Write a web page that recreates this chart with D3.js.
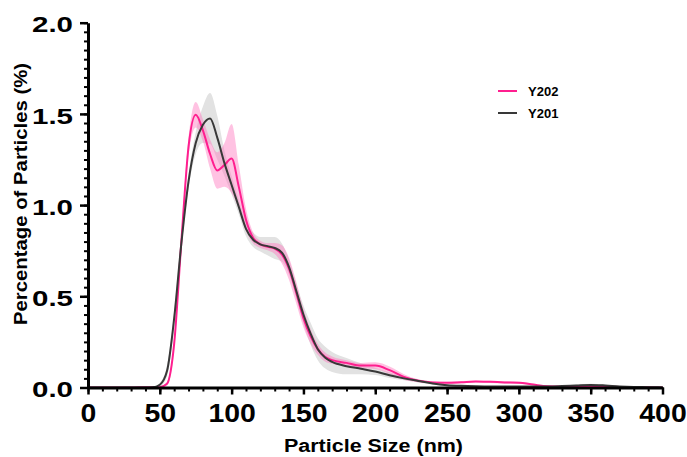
<!DOCTYPE html>
<html><head><meta charset="utf-8">
<script src="https://cdn.jsdelivr.net/npm/d3@7"></script>
<style>body{margin:0;background:#fff}svg{display:block}text{font-family:"Liberation Sans",Arial,sans-serif}</style>
</head><body><svg id="c" width="687" height="457"></svg>
<script>
const sizes = [0,10,20,30,40,45,50,55,60,65,70,75,80,85,90,95,100,105,110,115,120,125,130,135,140,145,150,155,160,165,170,180,190,200,210,220,230,240,250,260,270,280,290,300,310,320,330,340,350,360,370,380,390,400];
const y201Mean = [0,0,0,0,0,0.001,0.015,0.09,0.38,0.79,1.13,1.34,1.44,1.475,1.37,1.23,1.11,0.99,0.87,0.81,0.785,0.775,0.765,0.74,0.66,0.53,0.40,0.295,0.21,0.165,0.14,0.117,0.103,0.088,0.067,0.05,0.036,0.022,0.013,0.009,0.007,0.006,0.006,0.006,0.006,0.006,0.008,0.011,0.014,0.011,0.006,0.003,0.002,0];
const y201Sem = [0,0,0,0,0,0.002,0.01,0.03,0.04,0.04,0.04,0.06,0.1,0.14,0.12,0.07,0.05,0.04,0.04,0.04,0.04,0.05,0.06,0.05,0.04,0.04,0.05,0.06,0.06,0.06,0.055,0.045,0.03,0.02,0.015,0.01,0.008,0.005,0.005,0.004,0.004,0.004,0.004,0.004,0.004,0.004,0.004,0.005,0.006,0.005,0.004,0.003,0.002,0];
const y202Mean = [0,0,0,0,0.002,0.002,0.002,0.02,0.24,0.8,1.32,1.495,1.41,1.28,1.19,1.22,1.255,1.1,0.92,0.82,0.785,0.772,0.762,0.73,0.65,0.52,0.38,0.28,0.21,0.168,0.15,0.135,0.12,0.12,0.095,0.058,0.037,0.028,0.026,0.029,0.033,0.031,0.028,0.026,0.016,0.007,0.005,0.005,0.005,0.004,0.003,0.002,0.001,0];
const y202Sem = [0,0,0,0,0.002,0.002,0.002,0.01,0.03,0.04,0.05,0.07,0.06,0.08,0.1,0.12,0.19,0.12,0.06,0.03,0.02,0.02,0.03,0.05,0.06,0.06,0.05,0.04,0.03,0.025,0.02,0.015,0.015,0.018,0.02,0.015,0.008,0.006,0.006,0.006,0.006,0.006,0.006,0.006,0.005,0.004,0.003,0.003,0.003,0.003,0.002,0.002,0.001,0];
const xTicks = [0,50,100,150,200,250,300,350,400];
const yTicks = [0,0.5,1.0,1.5,2.0];
const seriesNames = ["Y202","Y201"];

const svg = d3.select("#c");
const x = d3.scaleLinear().domain([0,400]).range([88,662.5]);
const y = d3.scaleLinear().domain([0,2]).range([387.5,22.7]);

const series = [
  {name:"Y201", mean:y201Mean, sem:y201Sem, line:"#383838", band:"#e2e2e2"},
  {name:"Y202", mean:y202Mean, sem:y202Sem, line:"#ff1f8f", band:"rgba(255,120,190,0.45)"}
];
const area = d3.area().x(d=>x(d.s)).y0(d=>y(Math.max(0,d.m-d.e))).y1(d=>y(d.m+d.e)).curve(d3.curveMonotoneX);
const line = d3.line().x(d=>x(d.s)).y(d=>y(d.m)).curve(d3.curveMonotoneX);
const pts = s => sizes.map((v,i)=>({s:v,m:s.mean[i],e:s.sem[i]}));

series.forEach(s=>svg.append("path").attr("d",area(pts(s))).attr("fill",s.band));
[series[1],series[0]].forEach(s=>svg.append("path").attr("d",line(pts(s))).attr("fill","none").attr("stroke",s.line).attr("stroke-width",2));

// Y axis
const yMinor = d3.range(0,2.0001,0.05);
const gyMin = svg.append("g").attr("transform","translate(88,0)")
  .call(d3.axisLeft(y).tickValues(yMinor).tickSize(4).tickFormat("").tickSizeOuter(0));
gyMin.select(".domain").remove();
gyMin.selectAll("line").attr("stroke","#000").attr("stroke-width",2);
const gy = svg.append("g").attr("transform","translate(88,0)")
  .call(d3.axisLeft(y).tickValues(yTicks).tickSize(8).tickSizeOuter(0).tickFormat(d3.format(".1f")).tickPadding(7));
gy.select(".domain").attr("stroke","#000").attr("stroke-width",3);
gy.selectAll("line").attr("stroke","#000").attr("stroke-width",2.5);
gy.selectAll("text").attr("font-size",22).attr("font-weight","bold").attr("fill","#000")
  .attr("dy","0.42em").attr("textLength",41).attr("lengthAdjust","spacingAndGlyphs");

// X axis
const xMinor = d3.range(0,400.001,10);
const gxMin = svg.append("g").attr("transform","translate(0,387.5)")
  .call(d3.axisBottom(x).tickValues(xMinor).tickSize(4).tickFormat("").tickSizeOuter(0));
gxMin.select(".domain").remove();
gxMin.selectAll("line").attr("stroke","#000").attr("stroke-width",2);
const gx = svg.append("g").attr("transform","translate(0,387.5)")
  .call(d3.axisBottom(x).tickValues(xTicks).tickSize(7).tickSizeOuter(0).tickPadding(8));
gx.select(".domain").attr("stroke","#000").attr("stroke-width",3);
gx.selectAll("line").attr("stroke","#000").attr("stroke-width",2.5);
gx.selectAll("text").attr("font-size",26).attr("font-weight","bold").attr("fill","#000")
  .attr("dy",null).attr("y",34.5)
  .attr("textLength",d=>String(d).length*15.8).attr("lengthAdjust","spacingAndGlyphs");

// Titles
svg.append("text").attr("x",373.5).attr("y",452).attr("text-anchor","middle")
  .attr("font-size",18).attr("font-weight","bold").attr("textLength",179).attr("lengthAdjust","spacingAndGlyphs")
  .text("Particle Size (nm)");
svg.append("text").attr("transform","translate(27,194) rotate(-90)").attr("text-anchor","middle")
  .attr("font-size",18).attr("font-weight","bold").attr("textLength",262).attr("lengthAdjust","spacingAndGlyphs")
  .text("Percentage of Particles (%)");

// Legend
const lg = [{name:seriesNames[0],c:"#ff1f8f",y:91},{name:seriesNames[1],c:"#383838",y:113}];
lg.forEach(l=>{
  svg.append("line").attr("x1",498).attr("x2",517).attr("y1",l.y).attr("y2",l.y).attr("stroke",l.c).attr("stroke-width",2);
  svg.append("text").attr("x",528).attr("y",l.y+5).attr("font-size",13).attr("font-weight","bold").text(l.name);
});
</script></body></html>
